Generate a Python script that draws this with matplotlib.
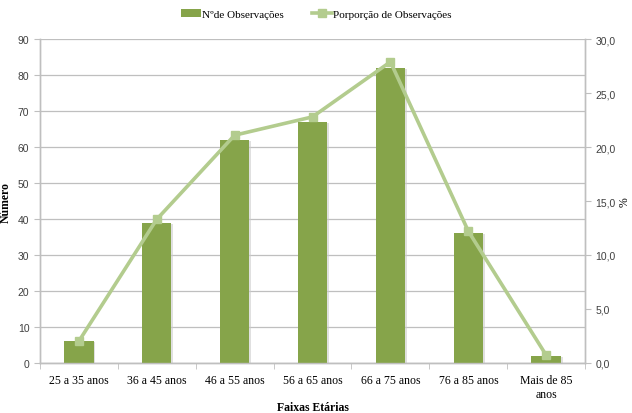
import matplotlib
matplotlib.use("Agg")
import matplotlib.pyplot as plt
import numpy as np

categorias = ["25 a 35 anos", "36 a 45 anos", "46 a 55 anos", "56 a 65 anos",
              "66 a 75 anos", "76 a 85 anos", "Mais de 85\nanos"]
observacoes = [6, 39, 62, 67, 82, 36, 2]
proporcao = [2.0, 13.3, 21.1, 22.8, 27.9, 12.2, 0.7]

cor_barra = "#86A44A"
cor_linha = "#B3CC8E"
cor_grade = "#BFBFBF"
serif = "Liberation Serif"
sans = "Liberation Sans"

fig = plt.figure(figsize=(6.32, 4.14), dpi=100)
ax = fig.add_axes([0.063, 0.121, 0.863, 0.782])
ax2 = ax.twinx()

x = np.arange(len(categorias))
ax.bar(x + 0.02, np.array(observacoes) - 0.3, width=0.38, color="#CCCCCC",
       alpha=0.6, zorder=2)
barras = ax.bar(x, observacoes, width=0.38, color=cor_barra, zorder=3,
                label="Nºde Observações")
ax.set_ylim(0, 90)
ax.set_yticks(range(0, 91, 10))
ax.set_xlim(-0.5, len(categorias) - 0.5)
ax.set_xticks(np.arange(-0.5, len(categorias), 1), minor=True)
ax.set_xticks(x)
ax.set_xticklabels(categorias, fontfamily=serif, fontsize=8.5)
ax.tick_params(axis="x", which="major", length=0, pad=8)
ax.tick_params(axis="x", which="minor", length=4, color=cor_grade)
ax.tick_params(axis="y", length=4, color=cor_grade, labelsize=7.5, labelcolor="#404040")
for lab in ax.get_yticklabels():
    lab.set_fontfamily(sans)
ax.yaxis.grid(True, color=cor_grade, linewidth=0.9, zorder=0)
ax.set_axisbelow(True)

linha, = ax2.plot(x, proporcao, color=cor_linha, linewidth=2.6, marker="s",
                  markersize=6, zorder=4, label="Porporção de Observações")
ax2.set_ylim(0, 30)
ax2.set_yticks(np.arange(0, 31, 5))
ax2.set_yticklabels([f"{v:.1f}".replace(".", ",") for v in np.arange(0, 31, 5)],
                    fontfamily=sans, fontsize=7.5, color="#404040")
ax2.tick_params(axis="y", length=4, color=cor_grade)

for a in (ax, ax2):
    a.spines["top"].set_visible(False)
    for s in ("left", "right", "bottom"):
        a.spines[s].set_color(cor_grade)
        a.spines[s].set_linewidth(1.0)

ax.set_ylabel("Número", fontfamily=serif, fontweight="bold", fontsize=8.5)
ax.yaxis.set_label_coords(-0.051, 0.5)
ax.set_xlabel("Faixas Etárias", fontfamily=serif, fontweight="bold", fontsize=8.5)
ax.xaxis.set_label_coords(0.5, -0.117)
ax2.set_ylabel("%", fontfamily=serif, fontsize=8.5)
ax2.yaxis.set_label_coords(1.062, 0.5)

fig.legend([barras, linha], ["Nºde Observações", "Porporção de Observações"],
           loc="upper center", bbox_to_anchor=(0.5, 1.0), ncol=2, frameon=False,
           prop={"family": serif, "size": 8}, handlelength=1.8, columnspacing=2.5,
           handletextpad=0.1)

fig.savefig("out.png", dpi=100)
